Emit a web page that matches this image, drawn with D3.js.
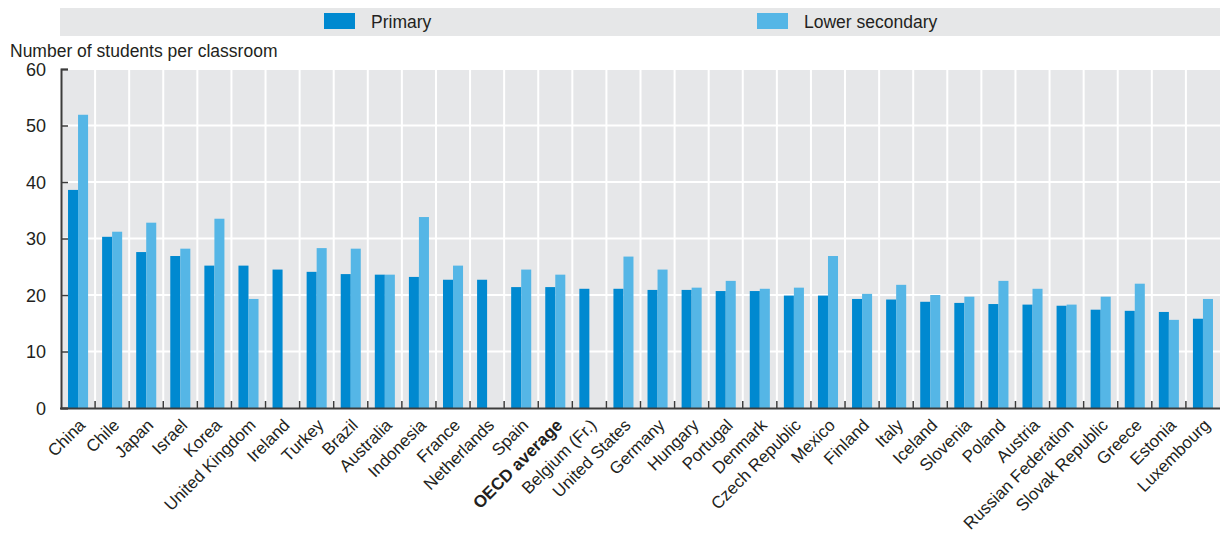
<!DOCTYPE html>
<html>
<head>
<meta charset="utf-8">
<script src="https://cdn.jsdelivr.net/npm/d3@7"></script>
<style>
  html, body { margin: 0; padding: 0; background: #ffffff; }
  svg text { font-family: "Liberation Sans Narrow", "Liberation Sans", sans-serif; fill: #231f20; }
</style>
</head>
<body>
<svg id="chart" width="1221" height="535"></svg>
<script>
const categories = ["China","Chile","Japan","Israel","Korea","United Kingdom","Ireland","Turkey","Brazil","Australia","Indonesia","France","Netherlands","Spain","OECD average","Belgium (Fr.)","United States","Germany","Hungary","Portugal","Denmark","Czech Republic","Mexico","Finland","Italy","Iceland","Slovenia","Poland","Austria","Russian Federation","Slovak Republic","Greece","Estonia","Luxembourg"];
const primary = [38.6,30.3,27.6,26.9,25.2,25.2,24.5,24.1,23.7,23.6,23.2,22.7,22.7,21.4,21.4,21.1,21.1,20.9,20.9,20.7,20.7,19.9,19.9,19.3,19.2,18.8,18.6,18.4,18.3,18.1,17.4,17.2,17.0,15.8];
const lowerSecondary = [51.9,31.2,32.8,28.2,33.5,19.3,null,28.3,28.2,23.6,33.8,25.2,null,24.5,23.6,null,26.8,24.5,21.3,22.5,21.1,21.3,26.9,20.2,21.8,20.0,19.7,22.5,21.1,18.3,19.7,22.0,15.6,19.3];
const seriesNames = ["Primary","Lower secondary"];
const seriesColors = ["#0089d0","#55b6e6"];
const yTicks = [0,10,20,30,40,50,60];
const yTitle = "Number of students per classroom";
const highlight = "OECD average";

const svg = d3.select("#chart");
const mLeft = 61, mRight = 1220, mTop = 69, mBottom = 408;

const x0 = d3.scaleBand().domain(categories).range([mLeft, mRight]).padding(0);
const x1 = d3.scaleBand().domain([0,1]).range([0, x0.bandwidth()]).paddingInner(0).paddingOuter(0.7);
const y = d3.scaleLinear().domain([0, 60]).range([mBottom, mTop]);

// legend box
svg.append("rect").attr("x", mLeft - 1).attr("y", 8).attr("width", mRight - mLeft + 1).attr("height", 28).attr("fill", "#e6e7e8");
const legendX = [324, 757];
seriesNames.forEach((name, i) => {
  svg.append("rect").attr("x", legendX[i]).attr("y", 13).attr("width", 31).attr("height", 16).attr("fill", seriesColors[i]);
  svg.append("text").attr("x", legendX[i] + 47).attr("y", 28).attr("font-size", 17.5).text(name);
});

// y title
svg.append("text").attr("x", 10).attr("y", 57).attr("font-size", 17.5).text(yTitle);

// plot background
svg.append("rect").attr("x", mLeft).attr("y", mTop).attr("width", mRight - mLeft).attr("height", mBottom - mTop).attr("fill", "#e6e7e9");

// horizontal gridlines
svg.append("g").selectAll("line").data(yTicks.filter(t => t > 0)).join("line")
  .attr("x1", mLeft).attr("x2", mRight)
  .attr("y1", d => y(d)).attr("y2", d => y(d))
  .attr("stroke", "#ffffff").attr("stroke-width", 2.2);

// vertical gridlines at band boundaries
svg.append("g").selectAll("line").data(categories.slice(1)).join("line")
  .attr("x1", d => x0(d)).attr("x2", d => x0(d))
  .attr("y1", mTop).attr("y2", mBottom)
  .attr("stroke", "#ffffff").attr("stroke-width", 2);

// bars
const groups = svg.append("g").selectAll("g").data(categories).join("g")
  .attr("transform", d => `translate(${x0(d)},0)`);
[primary, lowerSecondary].forEach((vals, s) => {
  groups.filter((d, i) => vals[i] != null).append("rect")
    .attr("x", x1(s))
    .attr("width", x1.bandwidth())
    .attr("y", d => y(vals[categories.indexOf(d)]))
    .attr("height", d => mBottom - y(vals[categories.indexOf(d)]))
    .attr("fill", seriesColors[s]);
});

// y axis
const yAxis = d3.axisLeft(y).tickValues(yTicks).tickSize(-7).tickPadding(15).tickFormat(d3.format("d"));
const gy = svg.append("g").attr("transform", `translate(${mLeft},0)`).call(yAxis);
gy.select(".domain").attr("stroke", "#3c3c3c").attr("stroke-width", 2);
gy.selectAll(".tick line").attr("stroke", "#3c3c3c").attr("stroke-width", 1.5);
gy.selectAll(".tick text").attr("font-size", 18).attr("fill", "#231f20").attr("dy", "0.35em")
  .style("font-family", '"Liberation Sans Narrow", "Liberation Sans", sans-serif');

// x axis baseline and ticks at band boundaries
svg.append("line").attr("x1", mLeft - 1).attr("x2", mRight).attr("y1", mBottom + 0.5).attr("y2", mBottom + 0.5)
  .attr("stroke", "#3c3c3c").attr("stroke-width", 2);
svg.append("g").selectAll("line").data(categories.slice(1)).join("line")
  .attr("x1", d => x0(d)).attr("x2", d => x0(d))
  .attr("y1", mBottom - 7).attr("y2", mBottom)
  .attr("stroke", "#3c3c3c").attr("stroke-width", 1.5);

// x labels
svg.append("g").selectAll("text").data(categories).join("text")
  .attr("transform", d => `translate(${x0(d) + x0.bandwidth() / 2 + 4},${mBottom + 14}) rotate(-45)`)
  .attr("text-anchor", "end")
  .attr("dy", "0.35em")
  .attr("font-size", 17)
  .attr("font-weight", d => d === highlight ? "bold" : "normal")
  .text(d => d);
</script>
</body>
</html>
